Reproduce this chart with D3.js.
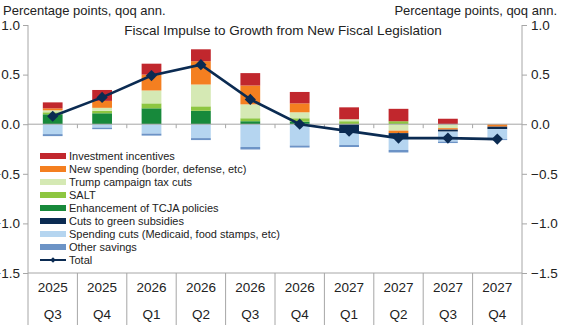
<!DOCTYPE html>
<html>
<head>
<meta charset="utf-8">
<script src="https://cdn.jsdelivr.net/npm/d3@7"></script>
<style>
  body { margin: 0; background: #fff; }
  svg text { font-family: "Liberation Sans", Arial, sans-serif; fill: #222; }
</style>
</head>
<body>
<script>

// chart values

var years = ['2025', '2025', '2026', '2026', '2026', '2026', '2027', '2027', '2027', '2027'];
var quarters = ['Q3', 'Q4', 'Q1', 'Q2', 'Q3', 'Q4', 'Q1', 'Q2', 'Q3', 'Q4'];

var tcja        = [0.10, 0.11, 0.16, 0.135, 0.03, 0.025, 0.00, 0.00, 0.00, 0.00];
var salt        = [0.02, 0.025, 0.05, 0.045, 0.03, 0.035, 0.03, 0.03, 0.00, 0.00];
var trumpCuts   = [0.02, 0.03, 0.13, 0.22, 0.14, 0.06, 0.02, -0.065, -0.04, 0.00];
var newSpending = [0.02, 0.07, 0.16, 0.235, 0.19, 0.09, 0.00, -0.025, -0.015, -0.025];
var investment  = [0.06, 0.11, 0.11, 0.12, 0.125, 0.115, 0.12, 0.125, 0.055, 0.00];
var greenCuts   = [0.00, 0.00, 0.00, 0.00, 0.00, 0.00, -0.09, -0.045, -0.02, -0.025];
var spendCuts   = [-0.10, -0.035, -0.095, -0.14, -0.23, -0.215, -0.12, -0.125, -0.10, -0.10];
var otherSaving = [-0.02, -0.015, -0.02, -0.02, -0.025, -0.02, -0.02, -0.025, -0.015, -0.01];
var total       = [0.08, 0.27, 0.49, 0.60, 0.25, 0.00, -0.07, -0.14, -0.14, -0.15];

var yTicks = [1.0, 0.5, 0.0, -0.5, -1.0, -1.5];

// stacking order (from zero outwards) and legend order differ, like in the original
var stackKeys = ['tcja', 'salt', 'trump', 'newsp', 'invest', 'green', 'spend', 'other'];
var legendKeys = ['invest', 'newsp', 'trump', 'salt', 'tcja', 'green', 'spend', 'other'];

var seriesNames = {
    invest: 'Investment incentives',
    newsp: 'New spending (border, defense, etc)',
    trump: 'Trump campaign tax cuts',
    salt: 'SALT',
    tcja: 'Enhancement of TCJA policies',
    green: 'Cuts to green subsidies',
    spend: 'Spending cuts (Medicaid, food stamps, etc)',
    other: 'Other savings'
};

var seriesColors = {
    invest: '#c1272d',
    newsp: '#f47f20',
    trump: '#d5e9b4',
    salt: '#8dc641',
    tcja: '#17893b',
    green: '#0b2b52',
    spend: '#b5d5f0',
    other: '#6c93c6'
};

var lineColor = '#0b2b52';
var axisColor = '#a6a6a6';


window.onload = function() {

    var width = 568,
        height = 329,
        left = 28,
        right = 522,
        top = 25,
        bottom = 273;

    var rows = years.map(function(y, i) {
        return {
            key: i,
            tcja: tcja[i],
            salt: salt[i],
            trump: trumpCuts[i],
            newsp: newSpending[i],
            invest: investment[i],
            green: greenCuts[i],
            spend: spendCuts[i],
            other: otherSaving[i],
            total: total[i]
        };
    });

    var svg = d3.select('body')
        .append('svg')
            .attr('width', width)
            .attr('height', height);

    var x = d3.scaleBand()
        .domain(d3.range(years.length))
        .range([left, right])
        .paddingInner(0.6)
        .paddingOuter(0.3);

    var xStep = x.step();

    var y = d3.scaleLinear()
        .domain([-1.5, 1.0])
        .range([bottom, top]);

    // stacked bars
    var stacked = d3.stack()
        .keys(stackKeys)
        .offset(d3.stackOffsetDiverging)(rows);

    svg.append('g')
        .selectAll('g')
        .data(stacked)
        .join('g')
            .attr('fill', function(d) { return seriesColors[d.key]; })
        .selectAll('rect')
        .data(function(d) { return d; })
        .join('rect')
            .attr('x', function(d) { return x(d.data.key); })
            .attr('y', function(d) { return y(d[1]); })
            .attr('width', x.bandwidth())
            .attr('height', function(d) { return Math.abs(y(d[0]) - y(d[1])); });

    // zero line with small ticks between categories
    svg.append('line')
        .attr('x1', left)
        .attr('x2', right)
        .attr('y1', y(0))
        .attr('y2', y(0))
        .attr('stroke', axisColor)
        .attr('stroke-width', 1);

    svg.append('g')
        .selectAll('line')
        .data(d3.range(1, years.length))
        .join('line')
            .attr('x1', function(i) { return left + i * xStep; })
            .attr('x2', function(i) { return left + i * xStep; })
            .attr('y1', y(0))
            .attr('y2', y(0) + 4)
            .attr('stroke', axisColor);

    // left and right value axes
    var leftAxis = d3.axisLeft(y)
        .tickValues(yTicks)
        .tickFormat(d3.format('.1f'))
        .tickSize(5)
        .tickPadding(3);

    var rightAxis = d3.axisRight(y)
        .tickValues(yTicks)
        .tickFormat(d3.format('.1f'))
        .tickSize(5)
        .tickPadding(4);

    [svg.append('g').attr('transform', 'translate(' + left + ',0)').call(leftAxis),
     svg.append('g').attr('transform', 'translate(' + right + ',0)').call(rightAxis)]
        .forEach(function(g) {
            g.select('.domain').remove();
            g.selectAll('line').attr('stroke', axisColor);
            g.selectAll('text')
                .style('font-size', '13.5px')
                .attr('fill', '#222');
        });

    // vertical axis lines run down through the category labels
    [left, right].forEach(function(px) {
        svg.append('line')
            .attr('x1', px)
            .attr('x2', px)
            .attr('y1', y(1.0))
            .attr('y2', 325)
            .attr('stroke', axisColor);
    });

    // category axis at the bottom
    svg.append('line')
        .attr('x1', left)
        .attr('x2', right)
        .attr('y1', y(-1.5))
        .attr('y2', y(-1.5))
        .attr('stroke', axisColor);

    svg.append('g')
        .selectAll('line')
        .data(d3.range(1, years.length))
        .join('line')
            .attr('x1', function(i) { return left + i * xStep; })
            .attr('x2', function(i) { return left + i * xStep; })
            .attr('y1', y(-1.5))
            .attr('y2', 325)
            .attr('stroke', axisColor);

    var cats = svg.append('g')
        .selectAll('g')
        .data(rows)
        .join('g')
            .attr('transform', function(d) {
                return 'translate(' + (x(d.key) + x.bandwidth() / 2) + ',0)';
            });

    cats.append('text')
        .attr('y', 292)
        .attr('text-anchor', 'middle')
        .style('font-size', '13.5px')
        .text(function(d) { return years[d.key]; });

    cats.append('text')
        .attr('y', 319)
        .attr('text-anchor', 'middle')
        .style('font-size', '13.5px')
        .text(function(d) { return quarters[d.key]; });

    // total line
    var line = d3.line()
        .x(function(d) { return x(d.key) + x.bandwidth() / 2; })
        .y(function(d) { return y(d.total); });

    svg.append('path')
        .datum(rows)
        .attr('d', line)
        .attr('fill', 'none')
        .attr('stroke', lineColor)
        .attr('stroke-width', 2.6);

    var diamond = d3.symbol().type(d3.symbolDiamond2).size(80);

    svg.append('g')
        .selectAll('path')
        .data(rows)
        .join('path')
            .attr('d', diamond)
            .attr('transform', function(d) {
                return 'translate(' + (x(d.key) + x.bandwidth() / 2) + ',' + y(d.total) + ')';
            })
            .attr('fill', lineColor);

    // titles
    svg.append('text')
        .attr('x', 3)
        .attr('y', 15)
        .style('font-size', '13px')
        .text('Percentage points, qoq ann.');

    svg.append('text')
        .attr('x', 557)
        .attr('y', 15)
        .attr('text-anchor', 'end')
        .style('font-size', '13px')
        .text('Percentage points, qoq ann.');

    svg.append('text')
        .attr('x', 283)
        .attr('y', 35)
        .attr('text-anchor', 'middle')
        .style('font-size', '13.5px')
        .text('Fiscal Impulse to Growth from New Fiscal Legislation');

    // legend
    var legend = svg.append('g')
        .attr('transform', 'translate(40,156)');

    var legendRow = 13;

    var entries = legend.selectAll('g')
        .data(legendKeys)
        .join('g')
            .attr('transform', function(d, i) { return 'translate(0,' + i * legendRow + ')'; });

    entries.append('rect')
        .attr('x', 0)
        .attr('y', -3)
        .attr('width', 26)
        .attr('height', 6)
        .attr('fill', function(d) { return seriesColors[d]; });

    entries.append('text')
        .attr('x', 29)
        .attr('y', 4)
        .style('font-size', '11px')
        .attr('fill', '#333')
        .text(function(d) { return seriesNames[d]; });

    var totalEntry = legend.append('g')
        .attr('transform', 'translate(0,' + legendKeys.length * legendRow + ')');

    totalEntry.append('line')
        .attr('x1', 0)
        .attr('x2', 26)
        .attr('stroke', lineColor)
        .attr('stroke-width', 2);

    totalEntry.append('path')
        .attr('d', d3.symbol().type(d3.symbolDiamond2).size(20))
        .attr('transform', 'translate(13,0)')
        .attr('fill', lineColor);

    totalEntry.append('text')
        .attr('x', 29)
        .attr('y', 4)
        .style('font-size', '11px')
        .attr('fill', '#333')
        .text('Total');

};

</script>
</body>
</html>
